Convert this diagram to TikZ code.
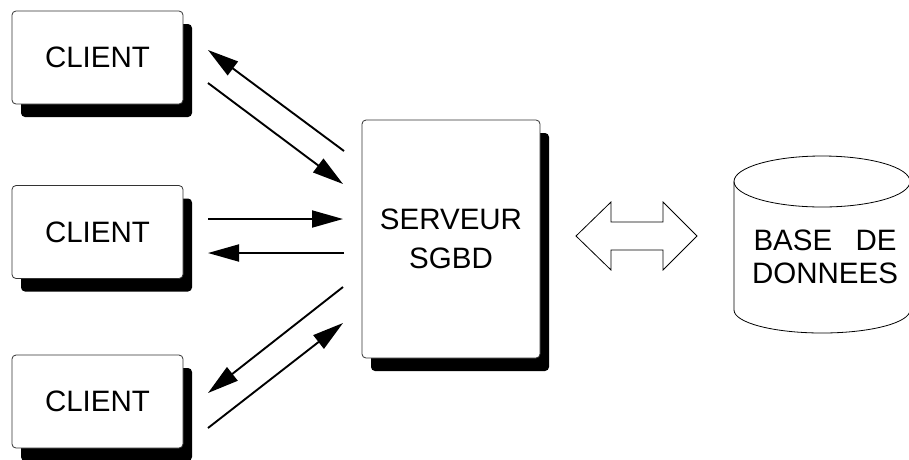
\documentclass[tikz,border=0pt]{standalone}
\usepackage{fontspec}
\setmainfont{Liberation Sans}
\usetikzlibrary{arrows.meta,shadows}
\begin{document}
\begin{tikzpicture}[x=1pt,y=-1pt,
  box/.style={draw=black!80, line width=0.8pt, rounded corners=4pt, fill=white,
    inner sep=0pt, align=center,
    font=\fontsize{29.5}{39}\selectfont,
    drop shadow={shadow xshift=9pt, shadow yshift=-13pt, fill=black, opacity=1}},
  clientbox/.style={box, minimum width=171pt, minimum height=93pt},
  flow/.style={line width=1.9pt, -{Triangle[length=31pt,width=17pt]}},
  outline/.style={draw=black, line width=0.8pt}
]
\useasboundingbox (0,0) rectangle (909,459);
\clip (0,0) rectangle (909,459);

% clients
\node[clientbox] (c1) at (97.5,57.5)  {CLIENT};
\node[clientbox] (c2) at (97.5,232)   {CLIENT};
\node[clientbox] (c3) at (97.5,401.5) {CLIENT};

% server
\node[box, minimum width=178pt, minimum height=238pt] (srv) at (451,239) {SERVEUR\\SGBD};

% arrow end points
\coordinate (a1) at (208,50);   \coordinate (b1) at (344,151);
\coordinate (a2) at (208,83);   \coordinate (b2) at (343,184);
\coordinate (a3) at (208,219);  \coordinate (b3) at (343,219);
\coordinate (a4) at (208,253);  \coordinate (b4) at (344,253);
\coordinate (a5) at (208,393);  \coordinate (b5) at (343,287);
\coordinate (a6) at (208,428);  \coordinate (b6) at (343,323);

\draw[flow] (b1) -- (a1);
\draw[flow] (a2) -- (b2);
\draw[flow] (a3) -- (b3);
\draw[flow] (b4) -- (a4);
\draw[flow] (b5) -- (a5);
\draw[flow] (a6) -- (b6);

% hollow double arrow
\draw[outline] (576,236) -- (611,202) -- (611,222) -- (663,222) -- (663,202)
  -- (697,236) -- (663,270) -- (663,250) -- (611,250) -- (611,270) -- cycle;

% database cylinder
\draw[outline] (822,181.5) ellipse [x radius=88, y radius=25.5];
\draw[outline] (734,181.5) -- (734,310)
  arc[start angle=180, end angle=0, x radius=88, y radius=23] -- (910,181.5);
\node[align=center, font=\fontsize{29.5}{33}\selectfont] (db) at (825,257)
  {\hbox to 143pt{BASE\hfill DE}\\DONNEES};
\end{tikzpicture}
\end{document}
